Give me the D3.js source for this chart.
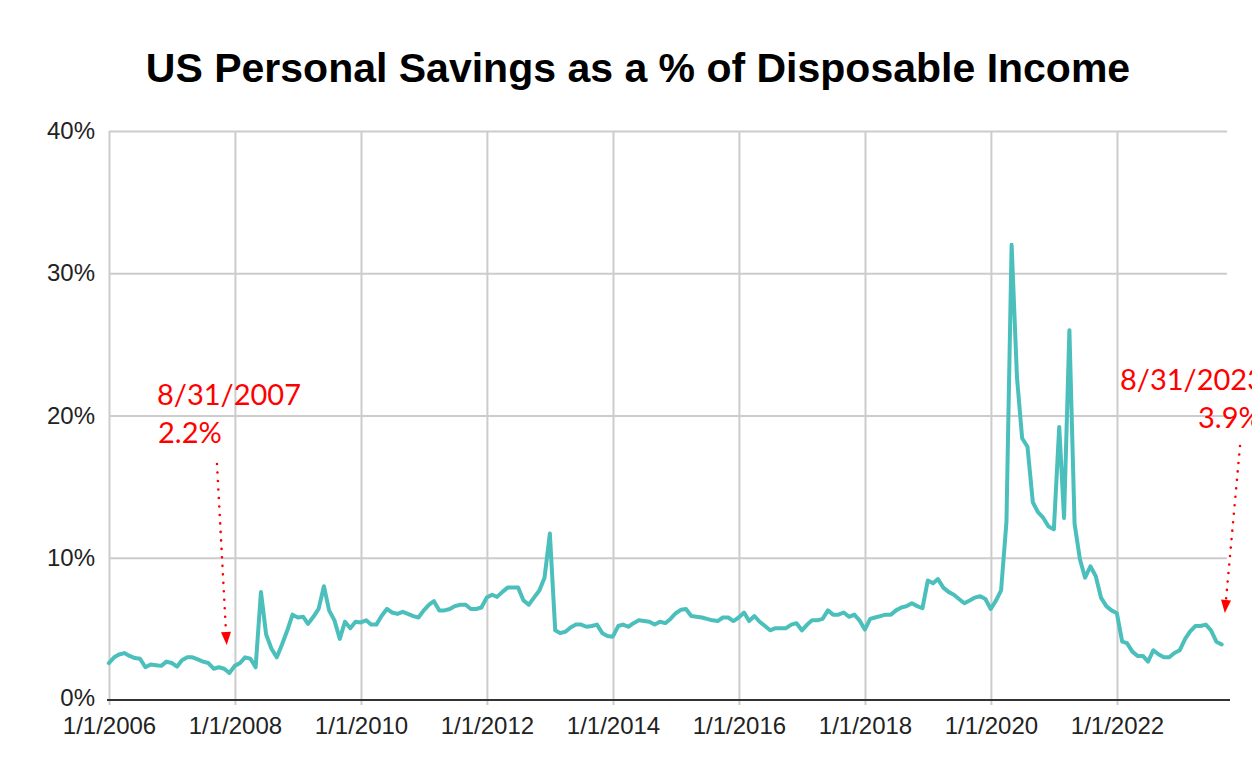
<!DOCTYPE html>
<html><head><meta charset="utf-8">
<script src="https://cdn.jsdelivr.net/npm/d3@7"></script>
<style>
html,body{margin:0;padding:0;background:#fff;}
svg{display:block;}
</style></head>
<body>
<svg id="chart" width="1252" height="777"></svg>
<script>
// ---------------- DATA ----------------
const chartTitle = "US Personal Savings as a % of Disposable Income";
// Monthly series, end-of-month dates, first value = 12/31/2005, last = 8/31/2023
const firstYear = 2005, firstMonth = 11; // December 2005 (0-based month)
const savingsRate = [
  2.6, 3.0, 3.2, 3.3, 3.1, 2.95, 2.9, 2.3, 2.5, 2.45, 2.4, 2.7, 2.6,      // 2005-12 .. 2006-12
  2.35, 2.8, 3.0, 3.0, 2.85, 2.7, 2.6, 2.2, 2.3, 2.2, 1.9, 2.4,           // 2007
  2.6, 3.0, 2.9, 2.3, 7.6, 4.6, 3.6, 3.0, 3.9, 4.9, 6.0, 5.8,             // 2008
  5.85, 5.35, 5.85, 6.4, 8.0, 6.3, 5.6, 4.3, 5.5, 5.05, 5.5, 5.45,        // 2009
  5.6, 5.3, 5.3, 5.9, 6.4, 6.15, 6.05, 6.2, 6.05, 5.9, 5.8, 6.3,          // 2010
  6.7, 6.95, 6.3, 6.3, 6.4, 6.6, 6.7, 6.7, 6.4, 6.4, 6.5, 7.2,            // 2011
  7.4, 7.25, 7.6, 7.9, 7.9, 7.9, 7.0, 6.7, 7.2, 7.7, 8.6, 11.7,           // 2012
  4.9, 4.7, 4.8, 5.1, 5.3, 5.3, 5.15, 5.2, 5.3, 4.7, 4.5, 4.45,           // 2013
  5.2, 5.3, 5.15, 5.4, 5.6, 5.55, 5.5, 5.3, 5.5, 5.4, 5.7, 6.1,           // 2014
  6.35, 6.4, 5.9, 5.85, 5.8, 5.7, 5.6, 5.55, 5.8, 5.8, 5.55, 5.8,         // 2015
  6.15, 5.55, 5.9, 5.5, 5.2, 4.9, 5.05, 5.05, 5.05, 5.3, 5.4, 4.9,        // 2016
  5.3, 5.6, 5.6, 5.7, 6.3, 6.0, 6.0, 6.15, 5.85, 6.0, 5.6, 4.95,          // 2017
  5.7, 5.8, 5.9, 6.0, 6.0, 6.3, 6.5, 6.6, 6.8, 6.6, 6.45, 8.4,            // 2018
  8.2, 8.5, 7.9, 7.6, 7.4, 7.1, 6.8, 7.0, 7.2, 7.3, 7.1, 6.4,             // 2019
  7.0, 7.7, 12.5, 32.0, 22.7, 18.4, 17.8, 13.9, 13.2, 12.8, 12.2, 12.0,   // 2020
  19.2, 12.8, 26.0, 12.4, 9.9, 8.6, 9.4, 8.7, 7.2, 6.6, 6.3, 6.1,         // 2021
  4.1, 4.0, 3.4, 3.1, 3.1, 2.7, 3.5, 3.2, 3.0, 3.0, 3.3, 3.5,             // 2022
  4.3, 4.8, 5.2, 5.2, 5.3, 4.9, 4.1, 3.9                                  // 2023
];
const yTickValues = [0, 10, 20, 30, 40];
const xTickYears = [2006, 2008, 2010, 2012, 2014, 2016, 2018, 2020, 2022];
const annotationLabels = [
  { line1: "8/31/2007", line2: "2.2%" },
  { line1: "8/31/2023", line2: "3.9%" }
];

// ---------------- LAYOUT ----------------
const plotLeft = 109, plotRight = 1227, plotTop = 131, plotBottom = 700;
const svg = d3.select("#chart");

const series = savingsRate.map((v, i) => ({ date: new Date(firstYear, firstMonth + i + 1, 0), value: v }));

const x = d3.scaleTime()
  .domain([new Date(2006, 0, 1), new Date(2022, 0, 1)])
  .range([plotLeft, 1117]);
const y = d3.scaleLinear().domain([0, 40]).range([plotBottom, plotTop]);

svg.append("rect").attr("width", 1252).attr("height", 777).attr("fill", "#ffffff");

// title
svg.append("text")
  .attr("x", 638).attr("y", 82)
  .attr("text-anchor", "middle")
  .attr("font-family", "'Liberation Sans', Arial, sans-serif")
  .attr("font-weight", "bold")
  .attr("font-size", 41)
  .attr("fill", "#000")
  .text(chartTitle);

// horizontal gridlines
const gy = svg.append("g")
  .attr("transform", `translate(${plotLeft},0)`)
  .call(d3.axisLeft(y).tickValues(yTickValues.filter(d => d > 0)).tickSize(-(plotRight - plotLeft)).tickFormat(""));
gy.select(".domain").remove();
gy.selectAll("line").attr("stroke", "#cccccc").attr("stroke-width", 2);

// vertical gridlines
const gx = svg.append("g")
  .attr("transform", `translate(0,${plotBottom + 5})`)
  .call(d3.axisBottom(x).tickValues(xTickYears.map(yr => new Date(yr, 0, 1))).tickSize(-(plotBottom + 5 - plotTop)).tickFormat(""));
gx.select(".domain").remove();
gx.selectAll("line").attr("stroke", "#cccccc").attr("stroke-width", 2);

// y labels
const yl = svg.append("g")
  .attr("transform", `translate(${plotLeft},0)`)
  .call(d3.axisLeft(y).tickValues(yTickValues).tickSize(0).tickPadding(14).tickFormat(d => d + "%"));
yl.select(".domain").remove();
yl.selectAll("text")
  .attr("font-family", "'Liberation Sans', Arial, sans-serif")
  .attr("font-size", 24)
  .attr("fill", "#222");
yl.selectAll("text").filter(d => d === 0).attr("dy", "0.22em");

// x labels
const xl = svg.append("g")
  .attr("transform", `translate(0,${plotBottom})`)
  .call(d3.axisBottom(x).tickValues(xTickYears.map(yr => new Date(yr, 0, 1))).tickSize(0).tickPadding(17).tickFormat(d3.timeFormat("1/1/%Y")));
xl.select(".domain").remove();
xl.selectAll("text")
  .attr("font-family", "'Liberation Sans', Arial, sans-serif")
  .attr("font-size", 24)
  .attr("fill", "#222");

// baseline
svg.append("line")
  .attr("x1", plotLeft - 2).attr("x2", plotRight + 3)
  .attr("y1", y(0)).attr("y2", y(0))
  .attr("stroke", "#333").attr("stroke-width", 2);

// series line
svg.append("path")
  .datum(series)
  .attr("fill", "none")
  .attr("stroke", "#4bbfbb")
  .attr("stroke-width", 4)
  .attr("stroke-linejoin", "round")
  .attr("stroke-linecap", "round")
  .attr("d", d3.line().x(d => x(d.date)).y(d => y(d.value)));

// annotations
const annFont = "Lato, 'Noto Sans', sans-serif";
const annLayout = [
  { tx1: 157, ty1: 405, tx2: 158, ty2: 443, ax1: 217, ay1: 464, ax2: 226, ay2: 632 },
  { tx1: 1120, ty1: 390, tx2: 1198, ty2: 428, ax1: 1240, ay1: 446, ax2: 1226, ay2: 600 }
];
annotationLabels.forEach((a, i) => {
  const L = annLayout[i];
  const g = svg.append("g");
  g.append("text").attr("x", L.tx1).attr("y", L.ty1)
    .attr("font-family", annFont).attr("font-size", 29).attr("fill", "#ff0000").text(a.line1);
  g.append("text").attr("x", L.tx2).attr("y", L.ty2)
    .attr("font-family", annFont).attr("font-size", 29).attr("fill", "#ff0000").text(a.line2);
  g.append("line")
    .attr("x1", L.ax1).attr("y1", L.ay1).attr("x2", L.ax2).attr("y2", L.ay2)
    .attr("stroke", "#ff0000").attr("stroke-width", 2.6)
    .attr("stroke-linecap", "round").attr("stroke-dasharray", "0 8.5");
  const dx = L.ax2 - L.ax1, dy = L.ay2 - L.ay1, len = Math.hypot(dx, dy);
  const ux = dx / len, uy = dy / len;
  const tipX = L.ax2 + ux * 13, tipY = L.ay2 + uy * 13;
  const px = -uy, py = ux;
  g.append("path")
    .attr("d", `M${L.ax2 + px * 5},${L.ay2 + py * 5} L${L.ax2 - px * 5},${L.ay2 - py * 5} L${tipX},${tipY} Z`)
    .attr("fill", "#ff0000");
});
</script>
</body></html>
